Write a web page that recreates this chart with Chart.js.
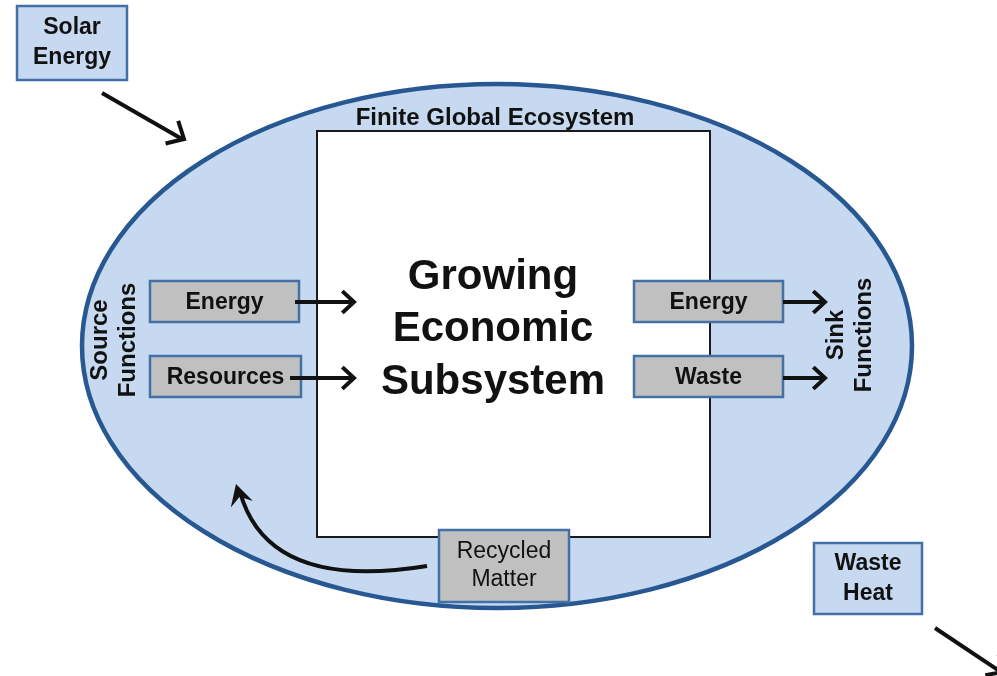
<!DOCTYPE html>
<html><head><meta charset="utf-8">
<script src="https://cdn.jsdelivr.net/npm/chart.js@4"></script>
<style>html,body{margin:0;padding:0;background:#fff}#wrap{width:997px;height:676px;position:relative}</style>
</head><body><div id="wrap"><canvas id="c"></canvas></div>
<script>
// ---- content (text) ----
const titleLabel = 'Finite Global Ecosystem';
const coreLines = ['Growing', 'Economic', 'Subsystem'];
const outsideBoxes = [['Solar', 'Energy'], ['Waste', 'Heat']];
const sourceBoxes = ['Energy', 'Resources'];
const sinkBoxes = ['Energy', 'Waste'];
const recycledLines = ['Recycled', 'Matter'];
const sideLabels = [['Source', 'Functions'], ['Sink', 'Functions']];

// ---- layout (diagram units = pixels of a 997x676 frame) ----
const L = {
  ellipse: {cx: 497, cy: 346, rx: 415, ry: 262},
  core: {x0: 317, y0: 131, x1: 710, y1: 537},
  title: {x: 495, y: 118},
  outside: [{x0: 17, y0: 6, x1: 127, y1: 80}, {x0: 814, y0: 543, x1: 922, y1: 614}],
  source: [{x0: 150, y0: 281, x1: 299, y1: 322}, {x0: 150, y0: 356, x1: 301, y1: 397}],
  sink: [{x0: 634, y0: 281, x1: 783, y1: 322}, {x0: 634, y0: 356, x1: 783, y1: 397}],
  recycled: {x0: 439, y0: 530, x1: 569, y1: 602},
  side: [{x: 100, x2: 128, y: 340}, {x: 836, x2: 864, y: 335}],
  coreText: {x: 493, ys: [277, 329, 382]}
};

const C = {
  ellFill: '#c6d9f0', ellStroke: '#285892', blueBox: '#c6d9f1', boxBorder: '#4470a8',
  grayBox: '#c0c0c0', text: '#111111'
};

const diagram = {
  id: 'diagram',
  beforeDatasetsDraw(chart) {
    const ctx = chart.ctx, sx = chart.scales.x, sy = chart.scales.y;
    const X = v => sx.getPixelForValue(v), Y = v => sy.getPixelForValue(v);
    const font = (w, s) => w + ' ' + s + 'px "Liberation Sans", Arial, sans-serif';
    ctx.save();
    ctx.fillStyle = '#fff'; ctx.fillRect(0, 0, chart.width, chart.height);

    // ellipse
    const e = L.ellipse;
    ctx.beginPath();
    ctx.ellipse(X(e.cx), Y(e.cy), X(e.cx + e.rx) - X(e.cx), Math.abs(Y(e.cy + e.ry) - Y(e.cy)), 0, 0, Math.PI * 2);
    ctx.fillStyle = C.ellFill; ctx.fill();
    ctx.lineWidth = 4.5; ctx.strokeStyle = C.ellStroke; ctx.stroke();

    // core rect
    const r = L.core;
    ctx.fillStyle = '#fff';
    ctx.fillRect(X(r.x0), Y(r.y0), X(r.x1) - X(r.x0), Y(r.y1) - Y(r.y0));
    ctx.lineWidth = 2; ctx.strokeStyle = '#1a1a1a';
    ctx.strokeRect(X(r.x0), Y(r.y0), X(r.x1) - X(r.x0), Y(r.y1) - Y(r.y0));

    function box(b, fill) {
      ctx.fillStyle = fill;
      ctx.fillRect(X(b.x0), Y(b.y0), X(b.x1) - X(b.x0), Y(b.y1) - Y(b.y0));
      ctx.lineWidth = 2.5; ctx.strokeStyle = C.boxBorder;
      ctx.strokeRect(X(b.x0), Y(b.y0), X(b.x1) - X(b.x0), Y(b.y1) - Y(b.y0));
    }
    function lines(arr, cx, cy, size, weight, gap) {
      ctx.fillStyle = C.text; ctx.font = font(weight, size);
      ctx.textAlign = 'center'; ctx.textBaseline = 'middle';
      const n = arr.length;
      arr.forEach((t, i) => ctx.fillText(t, X(cx), Y(cy + (i - (n - 1) / 2) * gap)));
    }
    function arrow(x0, y0, x1, y1, head) {
      ctx.strokeStyle = '#111'; ctx.lineWidth = 4; ctx.lineCap = 'butt';
      ctx.beginPath(); ctx.moveTo(X(x0), Y(y0)); ctx.lineTo(X(x1) - 2, Y(y1)); ctx.stroke();
      const a = Math.atan2(Y(y1) - Y(y0), X(x1) - X(x0));
      ctx.beginPath();
      ctx.moveTo(X(x1) - head * Math.cos(a - 0.75), Y(y1) - head * Math.sin(a - 0.75));
      ctx.lineTo(X(x1), Y(y1));
      ctx.lineTo(X(x1) - head * Math.cos(a + 0.75), Y(y1) - head * Math.sin(a + 0.75));
      ctx.lineJoin = 'miter'; ctx.lineWidth = 4; ctx.stroke();
    }

    // title
    ctx.fillStyle = C.text; ctx.font = font('bold', 24);
    ctx.textAlign = 'center'; ctx.textBaseline = 'middle';
    ctx.fillText(titleLabel, X(L.title.x), Y(L.title.y));

    // core text
    ctx.font = font('bold', 42);
    coreLines.forEach((t, i) => ctx.fillText(t, X(L.coreText.x), Y(L.coreText.ys[i])));

    // outside boxes
    L.outside.forEach((b, i) => {
      box(b, C.blueBox);
      lines(outsideBoxes[i], (b.x0 + b.x1) / 2, (b.y0 + b.y1) / 2, 23, 'bold', 30);
    });
    // source / sink
    L.source.forEach((b, i) => { box(b, C.grayBox); lines([sourceBoxes[i]], (b.x0 + b.x1) / 2, (b.y0 + b.y1) / 2 + 1, 23, 'bold', 0); });
    L.sink.forEach((b, i) => { box(b, C.grayBox); lines([sinkBoxes[i]], (b.x0 + b.x1) / 2, (b.y0 + b.y1) / 2 + 1, 23, 'bold', 0); });
    // recycled
    const rb = L.recycled;
    box(rb, C.grayBox);
    lines(recycledLines, (rb.x0 + rb.x1) / 2, (rb.y0 + rb.y1) / 2, 23, 'normal', 28);

    // side labels (rotated)
    L.side.forEach((s, i) => {
      ctx.save();
      ctx.fillStyle = C.text; ctx.font = font('bold', 24);
      ctx.textAlign = 'center'; ctx.textBaseline = 'middle';
      [s.x, s.x2].forEach((xx, j) => {
        ctx.save();
        ctx.translate(X(xx), Y(s.y));
        ctx.rotate(-Math.PI / 2);
        ctx.fillText(sideLabels[i][j], 0, 0);
        ctx.restore();
      });
      ctx.restore();
    });

    // arrows
    arrow(102, 93, 184, 139, 19);
    arrow(295, 302, 354, 302, 16);
    arrow(290, 378, 354, 378, 16);
    arrow(783, 302, 825, 302, 16);
    arrow(783, 378, 825, 378, 16);
    arrow(935, 628, 1003, 672, 18);

    // curved recycle arrow
    ctx.strokeStyle = '#111'; ctx.lineWidth = 4;
    ctx.beginPath();
    ctx.moveTo(X(427), Y(566));
    ctx.quadraticCurveTo(X(268), Y(592), X(240), Y(492));
    ctx.stroke();
    const ang = Math.atan2(Y(488) - Y(592), X(238) - X(268));
    const hx = X(236), hy = Y(484), h = 24;
    ctx.beginPath();
    ctx.moveTo(hx, hy);
    ctx.lineTo(hx - h * Math.cos(ang - 0.5), hy - h * Math.sin(ang - 0.5));
    ctx.lineTo(hx - 0.55 * h * Math.cos(ang), hy - 0.55 * h * Math.sin(ang));
    ctx.lineTo(hx - h * Math.cos(ang + 0.5), hy - h * Math.sin(ang + 0.5));
    ctx.closePath(); ctx.fillStyle = '#111'; ctx.fill();

    ctx.restore();
  }
};

new Chart(document.getElementById('c'), {
  type: 'scatter',
  data: { datasets: [{ data: [], pointRadius: 0 }] },
  options: {
    responsive: true, maintainAspectRatio: false, animation: false,
    layout: { padding: 0 },
    plugins: { legend: { display: false }, tooltip: { enabled: false } },
    scales: {
      x: { type: 'linear', min: 0, max: 997, display: false },
      y: { type: 'linear', min: 0, max: 676, reverse: true, display: false }
    }
  },
  plugins: [diagram]
});
</script></body></html>
